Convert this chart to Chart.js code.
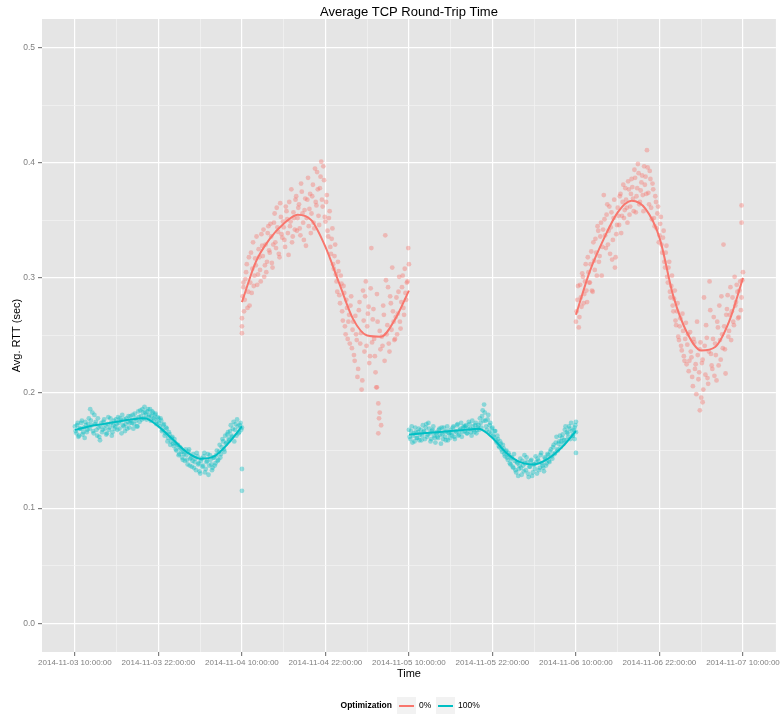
<!DOCTYPE html>
<html>
<head>
<meta charset="utf-8">
<title>Average TCP Round-Trip Time</title>
<script src="https://cdn.jsdelivr.net/npm/chart.js@4.4.1/dist/chart.umd.min.js"></script>
<style>
  html, body { margin: 0; padding: 0; background: #fff; }
  #wrap { width: 782px; height: 714px; }
</style>
</head>
<body>
<div id="wrap"><canvas id="chart-rtt" width="782" height="714"></canvas></div>
<script>
// time axis is in hours counted from 2014-11-03 00:00:00
// each run has two interleaved sample rows, 0.2 h apart, offset 0.1 h from each other
const SAMPLE_STEP = 0.2;
const ROW_OFFSET = 0.1;

const xTickHours = [10, 16, 22, 28, 34, 40, 46, 52, 58, 64, 70, 76, 82, 88, 94, 100, 106];
const yTickValues = [0, 0.05, 0.1, 0.15, 0.2, 0.25, 0.3, 0.35, 0.4, 0.45, 0.5];

const seriesNames = ['0%', '100%'];

// ---- 100% optimization, first run (11-03 10:00 -> 11-04 10:00)
const tealStart1 = 10;
const tealRtt1 = [
    0.171, 0.165, 0.174, 0.163, 0.169, 0.176, 0.166, 0.161, 0.172, 0.168,
    0.178, 0.186, 0.172, 0.167, 0.181, 0.175, 0.163, 0.170, 0.159, 0.174,
    0.168, 0.177, 0.172, 0.165, 0.179, 0.170, 0.174, 0.166, 0.176, 0.171,
    0.173, 0.179, 0.169, 0.176, 0.181, 0.171, 0.167, 0.178, 0.175, 0.170,
    0.180, 0.174, 0.169, 0.182, 0.176, 0.171, 0.179, 0.185, 0.177, 0.183,
    0.188, 0.181, 0.184, 0.179, 0.186, 0.180, 0.183, 0.177, 0.182, 0.175,
    0.178, 0.171, 0.176, 0.168, 0.173, 0.165, 0.169, 0.161, 0.164, 0.158,
    0.162, 0.154, 0.157, 0.150, 0.155, 0.147, 0.152, 0.144, 0.149, 0.141,
    0.146, 0.138, 0.151, 0.143, 0.136, 0.147, 0.140, 0.133, 0.145, 0.139,
    0.130, 0.143, 0.137, 0.148, 0.134, 0.141, 0.129, 0.146, 0.138, 0.135,
    0.144, 0.139, 0.150, 0.142, 0.155, 0.147, 0.160, 0.151, 0.163, 0.157,
    0.166, 0.159, 0.172, 0.162, 0.175, 0.168, 0.163, 0.171, 0.166, 0.174,
    0.170
];
const tealRtt1b = [
    0.167, 0.172, 0.162, 0.169, 0.174, 0.164, 0.170, 0.175, 0.166, 0.173,
    0.169, 0.176, 0.183, 0.165, 0.173, 0.168, 0.178, 0.162, 0.171, 0.166,
    0.175, 0.169, 0.164, 0.173, 0.168, 0.178, 0.163, 0.172, 0.169, 0.177,
    0.168, 0.174, 0.178, 0.165, 0.172, 0.177, 0.173, 0.169, 0.180, 0.174,
    0.176, 0.181, 0.173, 0.178, 0.171, 0.184, 0.175, 0.180, 0.186, 0.178,
    0.183, 0.177, 0.186, 0.181, 0.176, 0.184, 0.178, 0.181, 0.173, 0.179,
    0.174, 0.178, 0.167, 0.172, 0.163, 0.170, 0.158, 0.166, 0.155, 0.161,
    0.156, 0.160, 0.151, 0.155, 0.146, 0.153, 0.149, 0.142, 0.147, 0.151,
    0.142, 0.149, 0.137, 0.144, 0.141, 0.135, 0.143, 0.148, 0.138, 0.132,
    0.141, 0.136, 0.145, 0.131, 0.140, 0.147, 0.137, 0.142, 0.133, 0.144,
    0.137, 0.146, 0.141, 0.149, 0.144, 0.153, 0.158, 0.149, 0.156, 0.164,
    0.160, 0.167, 0.163, 0.169, 0.158, 0.173, 0.177, 0.165, 0.172, 0.168
];

// ---- 0% optimization, first run (11-04 10:00 -> 11-05 10:00)
const redStart1 = 34;
const redRtt1 = [
    0.265, 0.292, 0.281, 0.305, 0.274, 0.318, 0.296, 0.287, 0.331, 0.302,
    0.311, 0.294, 0.325, 0.307, 0.338, 0.319, 0.301, 0.329, 0.314, 0.345,
    0.322, 0.336, 0.309, 0.348, 0.331, 0.361, 0.340, 0.318, 0.353, 0.335,
    0.344, 0.327, 0.358, 0.339, 0.366, 0.349, 0.331, 0.357, 0.342, 0.371,
    0.352, 0.364, 0.337, 0.375, 0.348, 0.359, 0.328, 0.368, 0.345, 0.373,
    0.356, 0.381, 0.343, 0.366, 0.392, 0.354, 0.378, 0.401, 0.362, 0.385,
    0.349, 0.372, 0.336, 0.358, 0.321, 0.343, 0.308, 0.329, 0.297, 0.314,
    0.285, 0.302, 0.271, 0.293, 0.258, 0.281, 0.247, 0.268, 0.276, 0.239,
    0.262, 0.228, 0.251, 0.214, 0.272, 0.243, 0.203, 0.289, 0.236, 0.297,
    0.258, 0.275, 0.232, 0.326, 0.264, 0.247, 0.218, 0.286, 0.191, 0.254,
    0.172, 0.241, 0.268, 0.337, 0.251, 0.292, 0.236, 0.278, 0.309, 0.262,
    0.247, 0.283, 0.269, 0.301, 0.256, 0.292, 0.274, 0.308, 0.281, 0.297,
    0.312
];
const redRtt1b = [
    0.284, 0.271, 0.299, 0.312, 0.288, 0.276, 0.322, 0.308, 0.293, 0.317,
    0.336, 0.303, 0.318, 0.297, 0.328, 0.342, 0.311, 0.305, 0.339, 0.324,
    0.347, 0.313, 0.329, 0.356, 0.326, 0.344, 0.321, 0.365, 0.338, 0.349,
    0.333, 0.362, 0.351, 0.320, 0.345, 0.377, 0.336, 0.352, 0.368, 0.341,
    0.361, 0.343, 0.382, 0.356, 0.333, 0.369, 0.352, 0.387, 0.360, 0.339,
    0.371, 0.348, 0.395, 0.363, 0.377, 0.346, 0.388, 0.368, 0.397, 0.353,
    0.366, 0.341, 0.352, 0.327, 0.334, 0.312, 0.319, 0.303, 0.288, 0.306,
    0.278, 0.295, 0.263, 0.287, 0.251, 0.274, 0.262, 0.243, 0.284, 0.255,
    0.233, 0.267, 0.246, 0.221, 0.279, 0.252, 0.211, 0.263, 0.284, 0.241,
    0.269, 0.226, 0.291, 0.244, 0.273, 0.232, 0.205, 0.262, 0.178, 0.238,
    0.249, 0.276, 0.228, 0.298, 0.259, 0.243, 0.284, 0.255, 0.271, 0.246,
    0.266, 0.251, 0.288, 0.262, 0.279, 0.302, 0.268, 0.287, 0.296, 0.326
];

// ---- 100% optimization, second run (11-05 10:00 -> 11-06 10:00)
const tealStart2 = 58;
const tealRtt2 = [
    0.168, 0.160, 0.171, 0.163, 0.158, 0.166, 0.161, 0.169, 0.164, 0.159,
    0.172, 0.167, 0.170, 0.162, 0.174, 0.165, 0.160, 0.168, 0.163, 0.157,
    0.166, 0.161, 0.169, 0.156, 0.164, 0.170, 0.162, 0.167, 0.159, 0.165,
    0.168, 0.163, 0.171, 0.160, 0.166, 0.173, 0.164, 0.169, 0.162, 0.170,
    0.167, 0.172, 0.165, 0.175, 0.169, 0.163, 0.171, 0.166, 0.174, 0.168,
    0.172, 0.178, 0.170, 0.185, 0.190, 0.176, 0.168, 0.181, 0.172, 0.165,
    0.170, 0.162, 0.167, 0.157, 0.160, 0.153, 0.156, 0.149, 0.152, 0.145,
    0.150, 0.142, 0.146, 0.138, 0.144, 0.135, 0.141, 0.131, 0.139, 0.134,
    0.143, 0.129, 0.137, 0.146, 0.133, 0.140, 0.127, 0.136, 0.142, 0.131,
    0.138, 0.145, 0.130, 0.141, 0.135, 0.148, 0.137, 0.132, 0.143, 0.139,
    0.146, 0.140, 0.151, 0.143, 0.155, 0.148, 0.162, 0.150, 0.158, 0.153,
    0.161, 0.156, 0.168, 0.159, 0.165, 0.171, 0.160, 0.167, 0.163, 0.170,
    0.166
];
const tealRtt2b = [
    0.162, 0.167, 0.157, 0.165, 0.170, 0.161, 0.166, 0.159, 0.168, 0.163,
    0.166, 0.160, 0.173, 0.164, 0.169, 0.158, 0.167, 0.171, 0.161, 0.165,
    0.162, 0.168, 0.164, 0.170, 0.160, 0.166, 0.159, 0.171, 0.165, 0.161,
    0.165, 0.170, 0.162, 0.167, 0.172, 0.163, 0.168, 0.174, 0.166, 0.171,
    0.171, 0.165, 0.169, 0.173, 0.166, 0.176, 0.168, 0.172, 0.165, 0.170,
    0.168, 0.174, 0.180, 0.176, 0.183, 0.171, 0.177, 0.166, 0.174, 0.169,
    0.163, 0.167, 0.159, 0.163, 0.154, 0.158, 0.151, 0.155, 0.147, 0.149,
    0.144, 0.148, 0.139, 0.143, 0.136, 0.147, 0.133, 0.140, 0.128, 0.137,
    0.135, 0.141, 0.132, 0.139, 0.144, 0.130, 0.136, 0.141, 0.128, 0.138,
    0.134, 0.140, 0.143, 0.133, 0.146, 0.139, 0.135, 0.144, 0.137, 0.147,
    0.141, 0.149, 0.145, 0.153, 0.147, 0.157, 0.151, 0.156, 0.163, 0.158,
    0.164, 0.159, 0.171, 0.166, 0.162, 0.169, 0.174, 0.163, 0.168, 0.172
];

// ---- 0% optimization, second run (11-06 10:00 -> 11-07 10:00)
const redStart2 = 82;
const redRtt2 = [
    0.262, 0.281, 0.257, 0.294, 0.275, 0.301, 0.286, 0.312, 0.279, 0.305,
    0.296, 0.323, 0.288, 0.315, 0.334, 0.302, 0.341, 0.319, 0.348, 0.327,
    0.372, 0.337, 0.355, 0.329, 0.362, 0.344, 0.316, 0.352, 0.309, 0.338,
    0.361, 0.346, 0.373, 0.354, 0.381, 0.359, 0.368, 0.348, 0.377, 0.362,
    0.386, 0.369, 0.394, 0.357, 0.378, 0.391, 0.366, 0.383, 0.372, 0.397,
    0.388, 0.411, 0.374, 0.393, 0.361, 0.382, 0.352, 0.371, 0.343, 0.362,
    0.337, 0.353, 0.322, 0.341, 0.309, 0.328, 0.296, 0.314, 0.283, 0.302,
    0.271, 0.289, 0.259, 0.278, 0.246, 0.265, 0.237, 0.254, 0.228, 0.261,
    0.242, 0.219, 0.253, 0.231, 0.206, 0.244, 0.225, 0.262, 0.212, 0.238,
    0.196, 0.229, 0.283, 0.216, 0.248, 0.208, 0.297, 0.234, 0.221, 0.266,
    0.243, 0.211, 0.257, 0.276, 0.229, 0.251, 0.329, 0.238, 0.268, 0.285,
    0.254, 0.292, 0.271, 0.262, 0.301, 0.279, 0.288, 0.266, 0.297, 0.283,
    0.305
];
const redRtt2b = [
    0.271, 0.293, 0.266, 0.283, 0.304, 0.278, 0.297, 0.289, 0.318, 0.296,
    0.312, 0.289, 0.331, 0.307, 0.322, 0.345, 0.314, 0.336, 0.302, 0.342,
    0.351, 0.326, 0.364, 0.341, 0.321, 0.357, 0.333, 0.368, 0.318, 0.346,
    0.354, 0.371, 0.339, 0.366, 0.352, 0.378, 0.361, 0.384, 0.355, 0.373,
    0.379, 0.358, 0.387, 0.371, 0.399, 0.364, 0.376, 0.389, 0.358, 0.381,
    0.373, 0.396, 0.364, 0.386, 0.351, 0.377, 0.345, 0.366, 0.356, 0.331,
    0.347, 0.329, 0.335, 0.314, 0.322, 0.301, 0.309, 0.288, 0.293, 0.276,
    0.282, 0.263, 0.271, 0.249, 0.258, 0.241, 0.269, 0.232, 0.247, 0.225,
    0.251, 0.228, 0.236, 0.214, 0.247, 0.221, 0.199, 0.233, 0.218, 0.244,
    0.226, 0.203, 0.241, 0.259, 0.213, 0.236, 0.272, 0.224, 0.247, 0.215,
    0.233, 0.262, 0.224, 0.246, 0.284, 0.239, 0.258, 0.217, 0.273, 0.249,
    0.268, 0.246, 0.283, 0.259, 0.276, 0.294, 0.265, 0.289, 0.272, 0.298
];

// stray samples that sit away from the main cloud
const tealExtraHours = [34, 34, 82, 82, 81.8];
const tealExtraRtt   = [0.134, 0.115, 0.175, 0.148, 0.160];
const redExtraHours  = [34, 34, 53.6, 53.8, 53.4, 105.8, 105.8, 99.8, 100.2, 34.2];
const redExtraRtt    = [0.258, 0.252, 0.165, 0.183, 0.205, 0.363, 0.348, 0.185, 0.192, 0.296];

// smoothed trend (loess) per run
const smoothHoursT1 = [10, 12, 14, 16, 18, 20, 22, 24, 26, 28, 30, 32, 34];
const smoothT1      = [0.168, 0.171, 0.173, 0.175, 0.177, 0.178, 0.171, 0.160, 0.149, 0.143, 0.145, 0.156, 0.171];
const smoothHoursR1 = [34, 36, 38, 40, 42, 44, 46, 48, 50, 52, 54, 56, 58];
const smoothR1      = [0.279, 0.314, 0.334, 0.347, 0.355, 0.350, 0.327, 0.295, 0.264, 0.250, 0.249, 0.264, 0.289];
const smoothHoursT2 = [58, 60, 62, 64, 66, 68, 70, 72, 74, 76, 78, 80, 82];
const smoothT2      = [0.164, 0.165, 0.166, 0.167, 0.168, 0.169, 0.161, 0.148, 0.140, 0.138, 0.143, 0.153, 0.167];
const smoothHoursR2 = [82, 84, 86, 88, 90, 92, 94, 96, 98, 100, 102, 104, 106];
const smoothR2      = [0.268, 0.306, 0.334, 0.357, 0.367, 0.360, 0.335, 0.284, 0.252, 0.237, 0.240, 0.262, 0.300];

// ==========================================
// helpers
// ==========================================
const RED = '#F8766D';
const TEAL = '#00BFC4';
const RED_PT = 'rgba(248,118,109,0.4)';
const TEAL_PT = 'rgba(0,191,196,0.4)';
const FONT = '"Liberation Sans", Arial, sans-serif';

function runPoints(start, vals) {
    return vals.map((v, i) => ({ x: start + i * SAMPLE_STEP, y: v }));
}
function pairPoints(hours, vals) {
    return hours.map((h, i) => ({ x: h, y: vals[i] }));
}
function hourLabel(h) {
    const day = 3 + Math.floor(h / 24);
    const hr = h % 24;
    return '2014-11-0' + day + ' ' + String(hr).padStart(2, '0') + ':00:00';
}
const isMajorX = v => (v - 10) % 12 === 0;
const isMajorY = v => Math.round(v * 100) % 10 === 0;

const redPoints = [].concat(
    runPoints(redStart1, redRtt1), runPoints(redStart1 + ROW_OFFSET, redRtt1b),
    runPoints(redStart2, redRtt2), runPoints(redStart2 + ROW_OFFSET, redRtt2b),
    pairPoints(redExtraHours, redExtraRtt));
const tealPoints = [].concat(
    runPoints(tealStart1, tealRtt1), runPoints(tealStart1 + ROW_OFFSET, tealRtt1b),
    runPoints(tealStart2, tealRtt2), runPoints(tealStart2 + ROW_OFFSET, tealRtt2b),
    pairPoints(tealExtraHours, tealExtraRtt));

function smoothSet(hours, vals, color) {
    return {
        data: pairPoints(hours, vals), showLine: true, borderColor: color, borderWidth: 2,
        pointRadius: 0, cubicInterpolationMode: 'monotone', fill: false, order: 1
    };
}

// ==========================================
// plugins: panel background, title, legend
// ==========================================
const ggDecor = {
    id: 'ggDecor',
    beforeDraw(chart) {
        const { ctx, chartArea: a } = chart;
        ctx.save();
        ctx.fillStyle = '#E5E5E5';
        ctx.fillRect(a.left, a.top, a.right - a.left, a.bottom - a.top);
        ctx.restore();
    },
    afterDraw(chart) {
        const { ctx, chartArea: a } = chart;
        ctx.save();
        // title
        ctx.fillStyle = '#000';
        ctx.font = '13px ' + FONT;
        ctx.textAlign = 'center';
        ctx.textBaseline = 'middle';
        ctx.fillText('Average TCP Round-Trip Time', (a.left + a.right) / 2, 12);

        // legend
        const ly = 706;
        ctx.font = 'bold 8.5px ' + FONT;
        ctx.textAlign = 'right';
        ctx.fillText('Optimization', 392, ly);
        const keys = [{ x: 397, c: RED, t: seriesNames[0] }, { x: 436, c: TEAL, t: seriesNames[1] }];
        ctx.font = '8.5px ' + FONT;
        ctx.textAlign = 'left';
        keys.forEach(k => {
            ctx.fillStyle = '#F2F2F2';
            ctx.fillRect(k.x, 697, 19, 18);
            ctx.strokeStyle = k.c;
            ctx.lineWidth = 2;
            ctx.beginPath();
            ctx.moveTo(k.x + 2, ly);
            ctx.lineTo(k.x + 17, ly);
            ctx.stroke();
            ctx.fillStyle = '#000';
            ctx.fillText(k.t, k.x + 22, ly);
        });
        ctx.restore();
    }
};

// ==========================================
// chart
// ==========================================
const chart = new Chart(document.getElementById('chart-rtt'), {
    type: 'scatter',
    data: {
        datasets: [
            { data: redPoints, backgroundColor: RED_PT, borderWidth: 0, pointRadius: 2.4, order: 2 },
            { data: tealPoints, backgroundColor: TEAL_PT, borderWidth: 0, pointRadius: 2.4, order: 2 },
            smoothSet(smoothHoursT1, smoothT1, TEAL),
            smoothSet(smoothHoursR1, smoothR1, RED),
            smoothSet(smoothHoursT2, smoothT2, TEAL),
            smoothSet(smoothHoursR2, smoothR2, RED)
        ]
    },
    options: {
        responsive: false,
        animation: false,
        events: [],
        layout: { padding: { top: 19, right: 4, left: 0, bottom: 26 } },
        plugins: { legend: { display: false }, tooltip: { enabled: false }, title: { display: false } },
        scales: {
            x: {
                type: 'linear',
                min: 5.27,
                max: 110.73,
                afterBuildTicks: s => { s.ticks = xTickHours.map(v => ({ value: v })); },
                afterFit: s => { s.height = 36; },
                border: { display: false },
                grid: {
                    color: c => isMajorX(c.tick.value) ? '#FFFFFF' : '#F4F4F4',
                    lineWidth: c => isMajorX(c.tick.value) ? 1.2 : 0.7,
                    tickColor: c => isMajorX(c.tick.value) ? '#7F7F7F' : 'rgba(0,0,0,0)',
                    tickLength: 4
                },
                ticks: {
                    autoSkip: false, maxRotation: 0, padding: 2,
                    color: '#7F7F7F', font: { family: FONT, size: 8 },
                    callback: v => isMajorX(v) ? hourLabel(v) : ''
                },
                title: { display: true, text: 'Time', color: '#000', font: { family: FONT, size: 11 }, padding: { top: 0, bottom: 7 } }
            },
            y: {
                min: -0.025,
                max: 0.525,
                afterBuildTicks: s => { s.ticks = yTickValues.map(v => ({ value: v })); },
                afterFit: s => { s.width = 42; },
                border: { display: false },
                grid: {
                    color: c => isMajorY(c.tick.value) ? '#FFFFFF' : '#F4F4F4',
                    lineWidth: c => isMajorY(c.tick.value) ? 1.2 : 0.7,
                    tickColor: c => isMajorY(c.tick.value) ? '#7F7F7F' : 'rgba(0,0,0,0)',
                    tickLength: 4
                },
                ticks: {
                    autoSkip: false, padding: 3,
                    color: '#7F7F7F', font: { family: FONT, size: 8.5 },
                    callback: v => isMajorY(v) ? v.toFixed(1) : ''
                },
                title: { display: true, text: 'Avg. RTT (sec)', color: '#000', font: { family: FONT, size: 11 }, padding: { top: 10, bottom: 0 } }
            }
        }
    },
    plugins: [ggDecor]
});
</script>
</body>
</html>
